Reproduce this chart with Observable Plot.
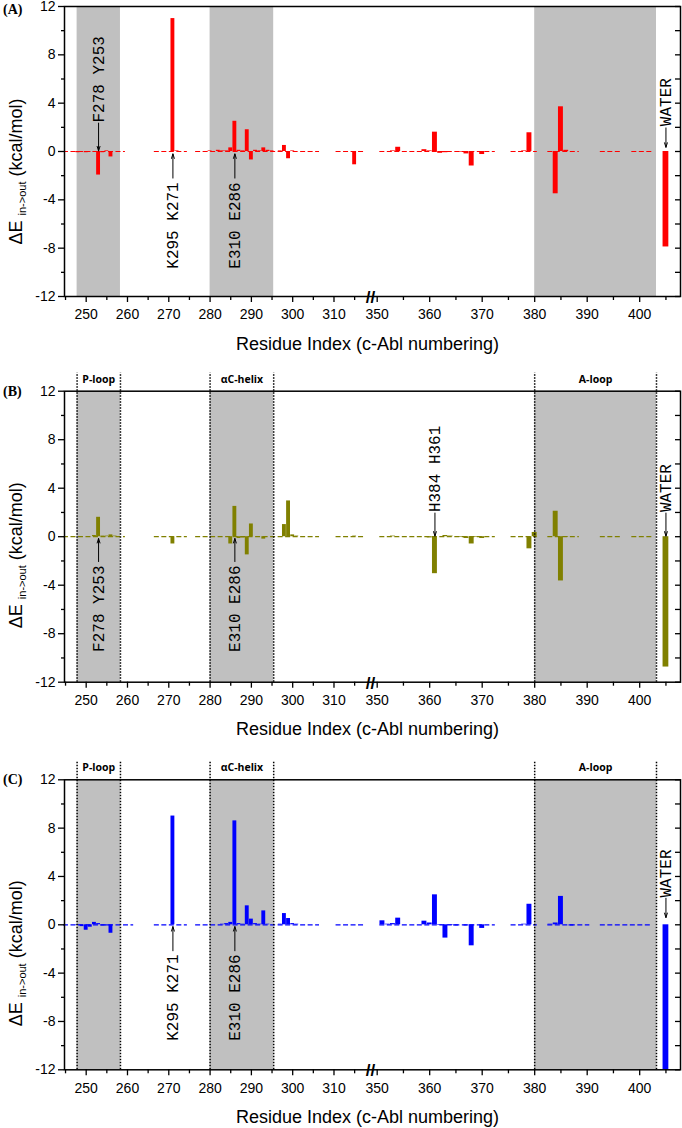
<!DOCTYPE html>
<html>
<head>
<meta charset="utf-8">
<script src="https://cdn.jsdelivr.net/npm/d3@7"></script>
<script src="https://cdn.jsdelivr.net/npm/@observablehq/plot@0.6"></script>
<style>
  body { margin: 0; background: #fff; width: 682px; }
  #chart svg { display: block; }
</style>
</head>
<body>
<div id="chart"></div>
<script>
// ---------------- DATA ----------------
const residues = [
  245,246,247,248,249,250,251,252,253,254,255,256,257,258,259,260,261,
  267,268,269,270,271,272,273,274,
  277,278,279,280,281,282,283,284,285,286,287,288,289,290,291,292,293,294,295,296,297,298,299,300,301,302,303,304,305,306,
  311,312,313,314,315,316,317,
  351,352,353,354,355,356,357,358,359,360,361,362,363,364,365,366,367,368,369,370,371,372,
  376,377,378,379,380,
  383,384,385,386,387,388,389,390,
  393,394,395,396,397,398,399,400,401,402
];
const energyA = [
  0,0,-0.05,-0.1,0,-0.1,0,-0.05,-1.95,-0.1,0.05,-0.45,0,0,0,null,null,
  0,0,0,0,11.0,0.05,0,0,
  0,0,0,0.05,0,0.1,0.05,0.05,0.3,2.5,0.1,0.05,1.8,-0.7,0.1,0.05,0.3,0.1,0.05,0,0.05,0.5,-0.6,0.05,0,0,0,0,0,0,
  0,0,0,0,-1.1,0,0,
  0,0,0.05,0.35,0,0,0,0,0.15,0.05,1.6,-0.15,-0.1,0,0,-0.05,-0.2,-1.2,0,-0.25,0,0,
  0,0,0.05,1.55,0,
  0,-3.5,3.7,0.1,0,0,null,null,
  0,0,0,0,null,null,0,0,0,0
];
const energyB = [
  0,0,0,0,0,0,0,0.1,1.6,0.05,0.05,0.15,0.05,0,0,null,null,
  0,0,0,0,-0.6,0,0,0,
  0,0,0,0,0,0,0,0,-0.6,2.5,-0.15,-0.1,-1.5,1.05,0,0,-0.2,0,0,0,0,1.0,2.95,0.15,0.05,0,0,0,0,0,
  0,0,0,0,0.05,0,0,
  0,0,0.05,0,0,0,0,0,0,-0.1,-3.05,0,0.1,0.05,0,-0.05,-0.15,-0.6,-0.05,-0.15,0,0,
  0,0,0,-1.0,0.35,
  0,2.1,-3.65,-0.05,0,0,null,null,
  0,0,0,0,null,null,0,0,0,0
];
const energyC = [
  0,0,0,-0.05,-0.15,-0.45,-0.2,0.2,0.1,-0.1,-0.1,-0.7,0,0,0,0,0,
  0,0,0,0,9.0,0,0,0,
  0,0,0,0,0,0,0.05,0.1,0.2,8.6,0.1,0.05,1.57,0.47,0.1,0.05,1.15,0.05,0,0,0.05,0.93,0.52,0.1,0.05,0,0,0,0,0,
  0,0,0,0,0,0,0,
  0.33,0.05,0.1,0.55,0,0,0,0,0.3,0.15,2.48,-0.05,-1.1,-0.05,-0.1,0,-0.1,-1.74,0,-0.3,0,0,
  0,0,0.05,1.7,0,
  0.05,0.15,2.35,0,-0.1,0,0,0,
  0,0,0,0,0,0,0,0,0,0
];
const waterResidue = 405;
const waterA = -7.9, waterB = -10.75, waterC = -12;

const regionNames = ["P-loop", "\u03b1C-helix", "A-loop"];
const regionStart = [247.8, 280, 380];
const regionEnd   = [258.3, 295.4, 403.2];

const xMajorTicks = [250,260,270,280,290,300,310,350,360,370,380,390,400];
const xMinorTicks = [245,255,265,275,285,295,305,315,355,365,375,385,395,405];
const yMajorTicks = [-12,-8,-4,0,4,8,12];
const yMinorTicks = [-10,-6,-2,2,6,10];

const annLabelsA = ["F278 Y253", "K295 K271", "E310 E286", "WATER"];
const annResA    = [253, 271, 286, 405];
const annTextA   = [2.4, -9.7, -9.7, 2.1];
const annFromA   = [2.35, -2.2, -2.2, 1.95];
const annToA     = [0.05, -0.2, -0.2, 0.35];

const annLabelsB = ["F278 Y253", "E310 E286", "H384 H361", "WATER"];
const annResB    = [253, 286, 361, 405];
const annTextB   = [-9.5, -9.5, 2.03, 2.03];
const annFromB   = [-2.05, -2.05, 1.95, 1.95];
const annToB     = [-0.15, -0.15, 0.05, 0.05];

const annLabelsC = ["K295 K271", "E310 E286", "WATER"];
const annResC    = [271, 286, 405];
const annTextC   = [-9.6, -9.6, 2.26];
const annFromC   = [-2.15, -2.15, 2.2];
const annToC     = [-0.15, -0.15, 0.6];

// ---------------- AXIS BREAK (310 // 350) ----------------
const BREAK = 335;
const rightScale = 5.25 / 4.13;         // right segment is stretched relative to left
const rightOffset = 320.46;
function xv(r) { return r < BREAK ? r : rightOffset + (r - 350) * rightScale; }
function xr(u) { return u < 319 ? u : 350 + (u - rightOffset) / rightScale; }
const X0 = 244.75, X1 = 393.9;
const breakU = 318.84;

const FONT = "'Liberation Sans', Arial, Helvetica, sans-serif";
const MONO = "'Liberation Mono', 'Courier New', monospace";

function segmentsOf(vals) {
  const segs = []; let cur = null;
  residues.forEach((r, i) => {
    if (vals[i] == null) { cur = null; return; }
    if (cur && r === cur.end + 1) cur.end = r;
    else { cur = {start: r, end: r}; segs.push(cur); }
  });
  return segs;
}

function panel(cfg) {
  const rows = residues.map((r, i) => ({r, v: cfg.values[i]})).filter(d => d.v != null);
  const segs = segmentsOf(cfg.values);
  const rIdx = regionNames.map((_, i) => i);
  const aIdx = cfg.annLabels.map((_, i) => i);
  const bounds = regionStart.concat(regionEnd);
  const yAll = yMajorTicks.concat(yMinorTicks);

  const marks = [
    Plot.rect(rIdx, {x1: i => xv(regionStart[i]), x2: i => xv(regionEnd[i]), y1: -12, y2: 12, fill: "#c0c0c0"}),
    Plot.ruleY(segs, {y: 0, x1: s => xv(s.start - 0.5), x2: s => xv(s.end + 0.5), stroke: cfg.color, strokeWidth: 1.2, strokeDasharray: "5,2.5"}),
    Plot.rect(rows, {x1: d => xv(d.r - 0.47), x2: d => xv(d.r + 0.47), y1: 0, y2: d => d.v, fill: cfg.color}),
    Plot.rect([cfg.water], {x1: xv(waterResidue - 0.55), x2: xv(waterResidue + 0.55), y1: 0, y2: d => d, fill: cfg.color}),
  ];
  if (cfg.showRegions) {
    marks.push(
      Plot.ruleX(bounds, {x: d => xv(d), y1: -12, y2: 13.5, stroke: "black", strokeWidth: 1.5, strokeDasharray: "1.5,1.5"}),
      Plot.text(rIdx, {x: i => xv((regionStart[i] + regionEnd[i]) / 2), y: 12, dy: -12, text: i => regionNames[i],
        fontFamily: "'Open Sans', sans-serif", fontWeight: "bold", fontSize: 10.5, fill: "black"})
    );
  }
  marks.push(
    Plot.frame({stroke: "black", strokeWidth: 1.5}),
    Plot.axisY({ticks: yMajorTicks, anchor: "left", tickSize: 6, tickPadding: 3, tickFormat: d => String(d), fontSize: 14, label: null, strokeWidth: 1.3}),
    Plot.axisY({ticks: yMinorTicks, anchor: "left", tickSize: 3, tickFormat: () => "", label: null, strokeWidth: 1.3}),
    Plot.ruleY(yAll, {y: d => d, x1: X1 - 5 / 4.13, x2: X1, stroke: "black", strokeWidth: 1.3}),
    Plot.axisX({ticks: xMajorTicks.map(xv), anchor: "bottom", tickSize: 6, tickPadding: 7, tickFormat: u => String(Math.round(xr(u))), fontSize: 14, label: null, strokeWidth: 1.3}),
    Plot.axisX({ticks: xMinorTicks.map(xv), anchor: "bottom", tickSize: 4, tickFormat: () => "", label: null, strokeWidth: 1.3}),
    Plot.text(["//"], {x: breakU, y: -12, text: d => d, fontSize: 17, fontWeight: "bold", fill: "black", dy: 1}),
    Plot.text(aIdx, {x: i => xv(cfg.annRes[i]), y: i => cfg.annText[i], text: i => cfg.annLabels[i], rotate: -90, textAnchor: "start",
      fontFamily: MONO, fontSize: 16, fill: "black"}),
    Plot.arrow(aIdx, {x: i => xv(cfg.annRes[i]), y1: i => cfg.annFrom[i], y2: i => cfg.annTo[i], stroke: "black", strokeWidth: 1, headLength: 7, headAngle: 35})
  );

  const svg = Plot.plot({
    width: 682,
    height: cfg.height,
    marginLeft: 64,
    marginRight: 2,
    marginTop: cfg.marginTop,
    marginBottom: cfg.marginBottom,
    style: {fontFamily: FONT, fontSize: "14px", color: "black", background: "white", overflow: "visible"},
    x: {type: "linear", domain: [X0, X1], axis: null},
    y: {type: "linear", domain: [-12, 12], axis: null},
    marks
  });

  const frameTop = cfg.marginTop;
  const frameBottom = cfg.height - cfg.marginBottom;
  const frameMid = (frameTop + frameBottom) / 2;
  const s = d3.select(svg);
  // panel letter
  s.append("text").attr("x", 3).attr("y", frameTop + cfg.letterDy).attr("text-anchor", "start")
    .attr("font-family", "'Liberation Serif', 'Times New Roman', serif").attr("font-weight", "bold")
    .attr("font-size", 14).attr("fill", "black").text(cfg.letter);
  // y title
  const t = s.append("text")
    .attr("transform", `translate(21.5, ${frameMid + cfg.yTitleShift}) rotate(-90)`)
    .attr("text-anchor", "middle").attr("font-family", FONT).attr("font-size", 18).attr("fill", "black");
  t.append("tspan").text("\u0394E ");
  t.append("tspan").attr("font-size", 11).attr("dy", 4).text("in->out");
  t.append("tspan").attr("dy", -4).text(" (kcal/mol)");
  // x title
  s.append("text").attr("x", 367.5).attr("y", frameBottom + 53.5).attr("text-anchor", "middle")
    .attr("font-family", FONT).attr("font-size", 18).attr("fill", "black")
    .text("Residue Index (c-Abl numbering)");
  return svg;
}

const chart = document.getElementById("chart");
chart.appendChild(panel({
  values: energyA, water: waterA, color: "#ff0000", letter: "(A)", showRegions: false,
  annLabels: annLabelsA, annRes: annResA, annText: annTextA, annFrom: annFromA, annTo: annToA,
  height: 366, marginTop: 6, marginBottom: 70, letterDy: 8, yTitleShift: 20.5
}));
chart.appendChild(panel({
  values: energyB, water: waterB, color: "#808000", letter: "(B)", showRegions: true,
  annLabels: annLabelsB, annRes: annResB, annText: annTextB, annFrom: annFromB, annTo: annToB,
  height: 387, marginTop: 24.7, marginBottom: 71.3, letterDy: 5.5, yTitleShift: 19
}));
chart.appendChild(panel({
  values: energyC, water: waterC, color: "#0000ff", letter: "(C)", showRegions: true,
  annLabels: annLabelsC, annRes: annResC, annText: annTextC, annFrom: annFromC, annTo: annToC,
  height: 375, marginTop: 26.3, marginBottom: 58.7, letterDy: 5, yTitleShift: 29
}));
</script>
</body>
</html>
